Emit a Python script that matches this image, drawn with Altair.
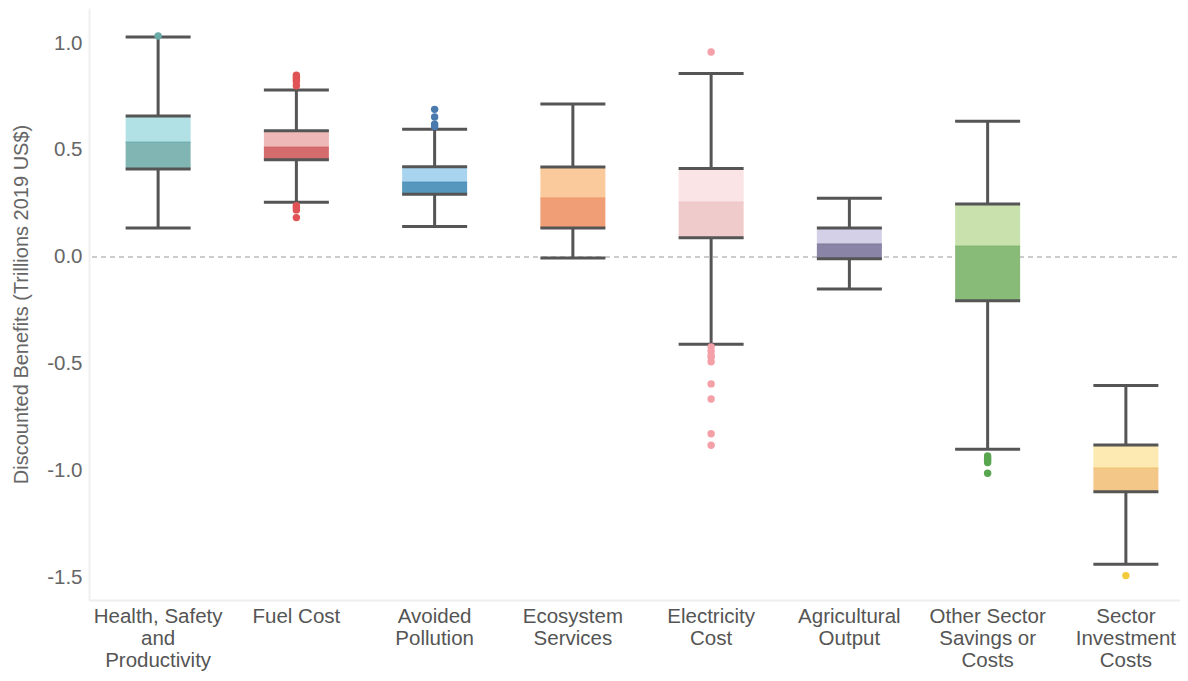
import altair as alt
import pandas as pd

categories = [
    "Health, Safety and Productivity", "Fuel Cost", "Avoided Pollution",
    "Ecosystem Services", "Electricity Cost", "Agricultural Output",
    "Other Sector Savings or Costs", "Sector Investment Costs",
]
label_lines = [
    ["Health, Safety", "and", "Productivity"], ["Fuel Cost"], ["Avoided", "Pollution"],
    ["Ecosystem", "Services"], ["Electricity", "Cost"], ["Agricultural", "Output"],
    ["Other Sector", "Savings or", "Costs"], ["Sector", "Investment", "Costs"],
]
whisker_low = [0.136, 0.256, 0.143, -0.005, -0.408, -0.150, -0.899, -1.436]
q1 = [0.411, 0.455, 0.293, 0.136, 0.090, -0.008, -0.204, -1.097]
median = [0.537, 0.514, 0.350, 0.276, 0.257, 0.061, 0.051, -0.986]
q3 = [0.659, 0.590, 0.422, 0.421, 0.413, 0.136, 0.248, -0.879]
whisker_high = [1.028, 0.780, 0.597, 0.715, 0.858, 0.274, 0.634, -0.600]
outliers = [
    [1.033],
    [0.85, 0.84, 0.83, 0.82, 0.80, 0.24, 0.23, 0.22, 0.184],
    [0.690, 0.654, 0.620, 0.610],
    [],
    [0.958, -0.42, -0.44, -0.46, -0.47, -0.49, -0.593, -0.664, -0.826, -0.880],
    [],
    [-0.930, -0.940, -0.950, -0.961, -1.011],
    [-1.489],
]
y_ticks = [-1.5, -1.0, -0.5, 0.0, 0.5, 1.0]
upper_colors = ["#b1e1e5", "#efb8b8", "#a9d4ef", "#fbca9c", "#fae4e5", "#d4d0e7", "#c9e2ad", "#fde9b2"]
lower_colors = ["#80b5b4", "#d46c6d", "#5597bd", "#f09e75", "#f0cbcc", "#8a84a7", "#88bb77", "#f3c787"]
median_colors = ["#66aaa8", "#d05c5e", "#4a8cb5", "#ee9468", "#efc0c2", "#7d7699", "#7ab169", "#f2c070"]
outlier_colors = ["#6aaba9", "#e05255", "#4a79ae", "#f09e75", "#f4a0a8", "#8a84a7", "#58a64f", "#f2ca3c"]

box = pd.DataFrame({"cat": categories, "wl": whisker_low, "q1": q1, "med": median,
                    "q3": q3, "wh": whisker_high})
out = pd.DataFrame([{"cat": c, "v": v} for c, vals in zip(categories, outliers) for v in vals])
zero = pd.DataFrame({"z": [0.0]})

label_map = "{" + ",".join(
    "'" + c + "':[" + ",".join("'" + s + "'" for s in ls) + "]" for c, ls in zip(categories, label_lines)
) + "}"

x = alt.X("cat:N", sort=categories, title=None,
          scale=alt.Scale(paddingInner=0, paddingOuter=0),
          axis=alt.Axis(labelAngle=0, labelExpr=label_map + "[datum.label]",
                        labelFontSize=20.5, labelColor="#555555", labelLineHeight=22,
                        labelFont="Liberation Sans", labelPadding=6, ticks=False,
                        domainColor="#eeeeee", domainWidth=2))
yscale = alt.Scale(domain=[-1.603, 1.1636], nice=False, zero=False)
yaxis = alt.Axis(values=y_ticks, grid=False, ticks=False,
                 labelExpr="(datum.value < 0 ? '-' : '') + format(abs(datum.value), '.1f')",
                 labelFontSize=20.5, labelColor="#666666", labelFont="Liberation Sans",
                 labelPadding=7, domainColor="#f0f0f0", domainWidth=2,
                 title="Discounted Benefits (Trillions 2019 US$)", titleFontSize=20,
                 titleColor="#666666", titleFont="Liberation Sans", titleFontWeight="normal",
                 titlePadding=15)

base = alt.Chart(box)

zero_line = alt.Chart(zero).mark_rule(color="#cccccc", strokeDash=[5, 4], strokeWidth=2).encode(
    y=alt.Y("z:Q", scale=yscale, axis=yaxis))

whisker = base.mark_rule(color="#555555", strokeWidth=3).encode(
    x=x, y=alt.Y("wl:Q", scale=yscale, axis=yaxis), y2="wh:Q")

lower_box = base.mark_bar(size=65).encode(
    x=x, y=alt.Y("q1:Q", scale=yscale), y2="med:Q",
    color=alt.Color("cat:N", scale=alt.Scale(domain=categories, range=lower_colors), legend=None))

upper_box = base.mark_bar(size=65).encode(
    x=x, y=alt.Y("med:Q", scale=yscale), y2="q3:Q",
    color=alt.Color("cat:N", scale=alt.Scale(domain=categories, range=upper_colors), legend=None))

median_line = base.mark_tick(size=65, thickness=1.2).encode(
    x=x, y=alt.Y("med:Q", scale=yscale),
    color=alt.Color("cat:N", scale=alt.Scale(domain=categories, range=median_colors), legend=None))

def tick(field):
    return base.mark_tick(size=65, thickness=3, color="#555555", opacity=1).encode(
        x=x, y=alt.Y(field + ":Q", scale=yscale))

points = alt.Chart(out).mark_circle(size=55, opacity=1).encode(
    x=x, y=alt.Y("v:Q", scale=yscale),
    color=alt.Color("cat:N", scale=alt.Scale(domain=categories, range=outlier_colors), legend=None))

chart = alt.layer(
    zero_line, whisker, lower_box, upper_box, median_line,
    tick("wl"), tick("wh"), tick("q1"), tick("q3"), points,
).resolve_scale(color="independent").properties(
    width=1106, height=592,
    autosize=alt.AutoSizeParams(type="none"),
    padding={"left": 81, "top": 0, "right": -15, "bottom": 73},
).configure_view(stroke=None)

chart.save("out.html", embed_options={"renderer": "svg", "actions": False})
